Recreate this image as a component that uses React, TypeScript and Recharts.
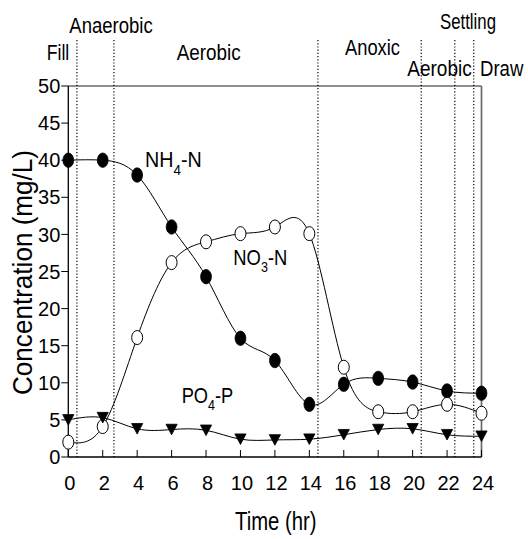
import React from 'react';
import { LineChart, Line, XAxis, YAxis, ReferenceLine } from 'recharts';

const FONT = '"Liberation Sans", Arial, Helvetica, sans-serif';

const timeHr = [0, 2, 4, 6, 8, 10, 12, 14, 16, 18, 20, 22, 24];
const nh4N = [40, 40, 38, 31, 24.3, 16, 13, 7.1, 9.8, 10.6, 10.1, 8.9, 8.6];
const no3N = [2.0, 4.1, 16.1, 26.2, 29.0, 30.1, 31.0, 30.1, 12.1, 6.1, 6.1, 7.1, 5.9];
const po4P = [5.0, 5.3, 3.8, 3.7, 3.6, 2.4, 2.3, 2.4, 3.0, 3.7, 3.8, 3.0, 2.8];

const xTicks = [0, 2, 4, 6, 8, 10, 12, 14, 16, 18, 20, 22, 24];
const yTicks = [0, 5, 10, 15, 20, 25, 30, 35, 40, 45, 50];
const phaseBounds = [0.5, 2.65, 14.5, 20.5, 22.45, 23.55];

const rows = timeHr.map((t, i) => ({ t, nh4: nh4N[i], no3: no3N[i], po4: po4P[i] }));

const XTick = (props: any) => {
  const { x, y, payload } = props;
  return (
    <g>
      <line x1={x} x2={x} y1={y} y2={y - 7} stroke="#000" strokeWidth={1} />
      <text x={x + 1.5} y={y + 33} textAnchor="middle" fontSize={20} fontFamily={FONT} fill="#000">
        {payload.value}
      </text>
    </g>
  );
};

const FilledDot = (props: any) => {
  const { cx, cy, index } = props;
  if (cx == null || cy == null) return <g key={`f${index}`} />;
  return <ellipse key={`f${index}`} cx={cx} cy={cy} rx={5.4} ry={7.2} fill="#000" stroke="#000" strokeWidth={0.8} />;
};

const OpenDot = (props: any) => {
  const { cx, cy, index } = props;
  if (cx == null || cy == null) return <g key={`o${index}`} />;
  return <ellipse key={`o${index}`} cx={cx} cy={cy} rx={5.5} ry={7} fill="#fff" stroke="#000" strokeWidth={1} />;
};

const TriDot = (props: any) => {
  const { cx, cy, index } = props;
  if (cx == null || cy == null) return <g key={`t${index}`} />;
  const w = 5.6;
  const h = 5.3;
  return (
    <path
      key={`t${index}`}
      d={`M${cx - w},${cy - h} L${cx + w},${cy - h} L${cx},${cy + h} Z`}
      fill="#000"
      stroke="#000"
      strokeWidth={0.8}
    />
  );
};

const DottedShape = (props: any) => {
  const { x1, x2, y1, y2 } = props;
  const top = Math.min(y1, y2) - 46;
  const bot = Math.max(y1, y2);
  return <line x1={x1} x2={x2} y1={top} y2={bot} stroke="#000" strokeWidth={1.2} strokeDasharray="1.2 2" />;
};

const Ann = ({ x, y, w, children, size = 21.5 }: any) => (
  <text x={x} y={y} fontSize={size} fontFamily={FONT} fill="#000" textLength={w} lengthAdjust="spacingAndGlyphs">
    {children}
  </text>
);

export default function App() {
  return (
    <div style={{ position: 'absolute', left: 0, top: 0, width: 528, height: 539, background: '#fff' }}>
      <LineChart width={528} height={539} data={rows} margin={{ top: 86, right: 46.5, bottom: 0, left: 0 }}>
        <XAxis
          dataKey="t"
          type="number"
          domain={[0, 24]}
          ticks={xTicks}
          interval={0}
          height={82}
          tickLine={false}
          tickSize={0}
          tickMargin={0}
          tick={<XTick />}
          axisLine={{ stroke: '#000', strokeWidth: 1.3 }}
        />
        <YAxis
          type="number"
          domain={[0, 50]}
          ticks={yTicks}
          interval={0}
          width={68.3}
          tickSize={7}
          tickMargin={1}
          tick={{ fontSize: 20, fill: '#000', fontFamily: FONT }}
          tickLine={{ stroke: '#000', strokeWidth: 1 }}
          axisLine={{ stroke: '#000', strokeWidth: 1.3 }}
        />
        <ReferenceLine y={50} stroke="#6a6a6a" strokeWidth={1.7} />
        <ReferenceLine x={24} stroke="#6a6a6a" strokeWidth={1.7} />
        {phaseBounds.map((b) => (
          <ReferenceLine key={b} x={b} ifOverflow="visible" shape={<DottedShape />} />
        ))}
        <Line
          type="natural"
          dataKey="nh4"
          stroke="#000"
          strokeWidth={1}
          dot={FilledDot}
          activeDot={false}
          isAnimationActive={false}
        />
        <Line
          type="natural"
          dataKey="no3"
          stroke="#000"
          strokeWidth={1}
          dot={OpenDot}
          activeDot={false}
          isAnimationActive={false}
        />
        <Line
          type="natural"
          dataKey="po4"
          stroke="#000"
          strokeWidth={1}
          dot={TriDot}
          activeDot={false}
          isAnimationActive={false}
        />
      </LineChart>
      <svg
        width={528}
        height={539}
        style={{ position: 'absolute', left: 0, top: 0, pointerEvents: 'none', overflow: 'visible' }}
      >
        <Ann x={46.7} y={60} w={22.6}>Fill</Ann>
        <Ann x={69.3} y={32.7} w={83.4}>Anaerobic</Ann>
        <Ann x={176.7} y={60} w={64}>Aerobic</Ann>
        <Ann x={345} y={55} w={55}>Anoxic</Ann>
        <Ann x={407.3} y={76} w={64.4}>Aerobic</Ann>
        <Ann x={440} y={29.3} w={56}>Settling</Ann>
        <Ann x={480} y={76} w={43.3}>Draw</Ann>

        <text x={145} y={167.3} fontSize={22} fontFamily={FONT} fill="#000" textLength={56.7} lengthAdjust="spacingAndGlyphs">
          NH<tspan fontSize={15} dy={7.5}>4</tspan>
          <tspan dy={-7.5}>-N</tspan>
        </text>
        <text x={233.3} y={265} fontSize={22} fontFamily={FONT} fill="#000" textLength={54} lengthAdjust="spacingAndGlyphs">
          NO<tspan fontSize={15} dy={6.7}>3</tspan>
          <tspan dy={-6.7}>-N</tspan>
        </text>
        <text x={181.7} y={403.3} fontSize={22} fontFamily={FONT} fill="#000" textLength={51.6} lengthAdjust="spacingAndGlyphs">
          PO<tspan fontSize={15} dy={6.7}>4</tspan>
          <tspan dy={-6.7}>-P</tspan>
        </text>

        <text
          transform="translate(32,272.5) rotate(-90)"
          x={0}
          y={0}
          textAnchor="middle"
          fontSize={28}
          fontFamily={FONT}
          fill="#000"
          textLength={245}
          lengthAdjust="spacingAndGlyphs"
        >
          Concentration (mg/L)
        </text>
        <text x={235} y={530} fontSize={25} fontFamily={FONT} fill="#000" textLength={81.5} lengthAdjust="spacingAndGlyphs">
          Time (hr)
        </text>
      </svg>
    </div>
  );
}
